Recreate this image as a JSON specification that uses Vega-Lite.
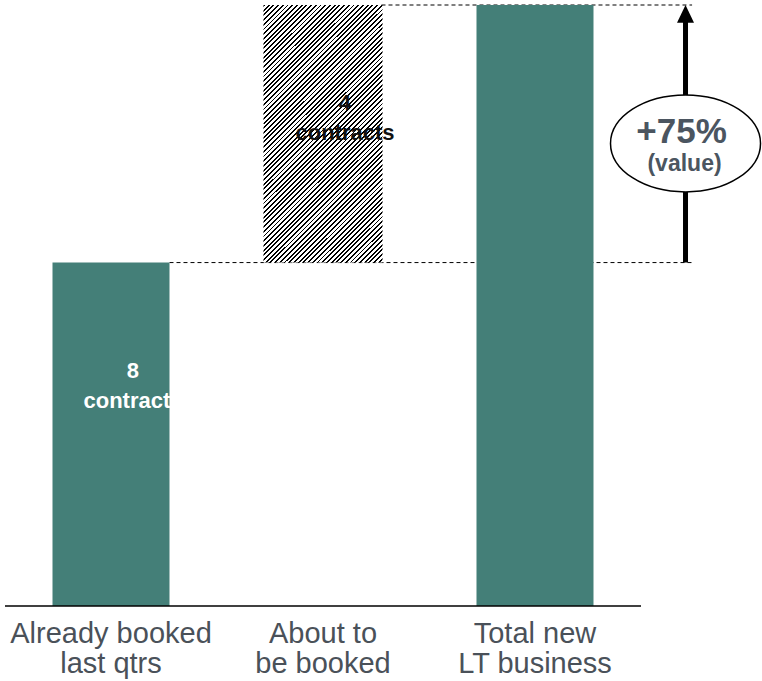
{
  "$schema": "https://vega.github.io/schema/vega-lite/v6.json",
  "width": 752,
  "height": 601,
  "autosize": {"type": "none"},
  "padding": {"left": 5, "top": 5, "right": 5, "bottom": 75},
  "background": "white",
  "config": {"view": {"stroke": null}, "font": "Liberation Sans"},
  "datasets": {
    "bars": [
      {"stage": "Already booked\nlast qtrs", "pos": 0.5, "start": 0, "end": 100, "note": "8\ncontracts", "kind": "booked"},
      {"stage": "About to\nbe booked", "pos": 1.5, "start": 100, "end": 175, "note": "4\ncontracts", "kind": "pipeline"},
      {"stage": "Total new\nLT business", "pos": 2.5, "start": 0, "end": 175, "note": "", "kind": "total"}
    ],
    "growth": [{"from": 100, "to": 175, "label": "+75%", "sub": "(value)"}]
  },
  "data": {"name": "bars"},
  "layer": [
    {
      "transform": [{"filter": "datum.kind != 'total'"}],
      "mark": {"type": "rule", "strokeDash": [4, 3], "strokeWidth": 1, "color": "#000000", "xOffset": 58.5, "x2Offset": 0},
      "encoding": {
        "x": {"field": "pos", "type": "quantitative", "scale": {"domain": [0, 3.5472], "nice": false, "zero": false, "padding": 0}, "axis": null},
        "x2": {"datum": 3.241},
        "y": {"field": "end", "type": "quantitative", "scale": {"domain": [0, 175], "nice": false, "padding": 0}, "axis": null}
      }
    },
    {
      "transform": [{"filter": "datum.kind != 'pipeline'"}],
      "mark": {"type": "bar", "width": 117, "color": "#447F78"},
      "encoding": {
        "x": {"field": "pos", "type": "quantitative"},
        "y": {"field": "end", "type": "quantitative"},
        "y2": {"field": "start"}
      }
    },
    {
      "transform": [{"filter": "datum.kind == 'pipeline'"}],
      "mark": {
        "type": "bar",
        "width": 119,
        "fill": {
          "gradient": "linear", "x1": 0, "y1": 0, "x2": 0.5558, "y2": 1.2049,
          "stops": [
            {"offset":0,"color":"#000"},{"offset":0.005,"color":"#000"},{"offset":0.005,"color":"#fff"},{"offset":0.0125,"color":"#fff"},
            {"offset":0.0125,"color":"#000"},{"offset":0.0175,"color":"#000"},{"offset":0.0175,"color":"#fff"},{"offset":0.025,"color":"#fff"},
            {"offset":0.025,"color":"#000"},{"offset":0.03,"color":"#000"},{"offset":0.03,"color":"#fff"},{"offset":0.0375,"color":"#fff"},
            {"offset":0.0375,"color":"#000"},{"offset":0.0425,"color":"#000"},{"offset":0.0425,"color":"#fff"},{"offset":0.05,"color":"#fff"},
            {"offset":0.05,"color":"#000"},{"offset":0.055,"color":"#000"},{"offset":0.055,"color":"#fff"},{"offset":0.0625,"color":"#fff"},
            {"offset":0.0625,"color":"#000"},{"offset":0.0675,"color":"#000"},{"offset":0.0675,"color":"#fff"},{"offset":0.075,"color":"#fff"},
            {"offset":0.075,"color":"#000"},{"offset":0.08,"color":"#000"},{"offset":0.08,"color":"#fff"},{"offset":0.0875,"color":"#fff"},
            {"offset":0.0875,"color":"#000"},{"offset":0.0925,"color":"#000"},{"offset":0.0925,"color":"#fff"},{"offset":0.1,"color":"#fff"},
            {"offset":0.1,"color":"#000"},{"offset":0.105,"color":"#000"},{"offset":0.105,"color":"#fff"},{"offset":0.1125,"color":"#fff"},
            {"offset":0.1125,"color":"#000"},{"offset":0.1175,"color":"#000"},{"offset":0.1175,"color":"#fff"},{"offset":0.125,"color":"#fff"},
            {"offset":0.125,"color":"#000"},{"offset":0.13,"color":"#000"},{"offset":0.13,"color":"#fff"},{"offset":0.1375,"color":"#fff"},
            {"offset":0.1375,"color":"#000"},{"offset":0.1425,"color":"#000"},{"offset":0.1425,"color":"#fff"},{"offset":0.15,"color":"#fff"},
            {"offset":0.15,"color":"#000"},{"offset":0.155,"color":"#000"},{"offset":0.155,"color":"#fff"},{"offset":0.1625,"color":"#fff"},
            {"offset":0.1625,"color":"#000"},{"offset":0.1675,"color":"#000"},{"offset":0.1675,"color":"#fff"},{"offset":0.175,"color":"#fff"},
            {"offset":0.175,"color":"#000"},{"offset":0.18,"color":"#000"},{"offset":0.18,"color":"#fff"},{"offset":0.1875,"color":"#fff"},
            {"offset":0.1875,"color":"#000"},{"offset":0.1925,"color":"#000"},{"offset":0.1925,"color":"#fff"},{"offset":0.2,"color":"#fff"},
            {"offset":0.2,"color":"#000"},{"offset":0.205,"color":"#000"},{"offset":0.205,"color":"#fff"},{"offset":0.2125,"color":"#fff"},
            {"offset":0.2125,"color":"#000"},{"offset":0.2175,"color":"#000"},{"offset":0.2175,"color":"#fff"},{"offset":0.225,"color":"#fff"},
            {"offset":0.225,"color":"#000"},{"offset":0.23,"color":"#000"},{"offset":0.23,"color":"#fff"},{"offset":0.2375,"color":"#fff"},
            {"offset":0.2375,"color":"#000"},{"offset":0.2425,"color":"#000"},{"offset":0.2425,"color":"#fff"},{"offset":0.25,"color":"#fff"},
            {"offset":0.25,"color":"#000"},{"offset":0.255,"color":"#000"},{"offset":0.255,"color":"#fff"},{"offset":0.2625,"color":"#fff"},
            {"offset":0.2625,"color":"#000"},{"offset":0.2675,"color":"#000"},{"offset":0.2675,"color":"#fff"},{"offset":0.275,"color":"#fff"},
            {"offset":0.275,"color":"#000"},{"offset":0.28,"color":"#000"},{"offset":0.28,"color":"#fff"},{"offset":0.2875,"color":"#fff"},
            {"offset":0.2875,"color":"#000"},{"offset":0.2925,"color":"#000"},{"offset":0.2925,"color":"#fff"},{"offset":0.3,"color":"#fff"},
            {"offset":0.3,"color":"#000"},{"offset":0.305,"color":"#000"},{"offset":0.305,"color":"#fff"},{"offset":0.3125,"color":"#fff"},
            {"offset":0.3125,"color":"#000"},{"offset":0.3175,"color":"#000"},{"offset":0.3175,"color":"#fff"},{"offset":0.325,"color":"#fff"},
            {"offset":0.325,"color":"#000"},{"offset":0.33,"color":"#000"},{"offset":0.33,"color":"#fff"},{"offset":0.3375,"color":"#fff"},
            {"offset":0.3375,"color":"#000"},{"offset":0.3425,"color":"#000"},{"offset":0.3425,"color":"#fff"},{"offset":0.35,"color":"#fff"},
            {"offset":0.35,"color":"#000"},{"offset":0.355,"color":"#000"},{"offset":0.355,"color":"#fff"},{"offset":0.3625,"color":"#fff"},
            {"offset":0.3625,"color":"#000"},{"offset":0.3675,"color":"#000"},{"offset":0.3675,"color":"#fff"},{"offset":0.375,"color":"#fff"},
            {"offset":0.375,"color":"#000"},{"offset":0.38,"color":"#000"},{"offset":0.38,"color":"#fff"},{"offset":0.3875,"color":"#fff"},
            {"offset":0.3875,"color":"#000"},{"offset":0.3925,"color":"#000"},{"offset":0.3925,"color":"#fff"},{"offset":0.4,"color":"#fff"},
            {"offset":0.4,"color":"#000"},{"offset":0.405,"color":"#000"},{"offset":0.405,"color":"#fff"},{"offset":0.4125,"color":"#fff"},
            {"offset":0.4125,"color":"#000"},{"offset":0.4175,"color":"#000"},{"offset":0.4175,"color":"#fff"},{"offset":0.425,"color":"#fff"},
            {"offset":0.425,"color":"#000"},{"offset":0.43,"color":"#000"},{"offset":0.43,"color":"#fff"},{"offset":0.4375,"color":"#fff"},
            {"offset":0.4375,"color":"#000"},{"offset":0.4425,"color":"#000"},{"offset":0.4425,"color":"#fff"},{"offset":0.45,"color":"#fff"},
            {"offset":0.45,"color":"#000"},{"offset":0.455,"color":"#000"},{"offset":0.455,"color":"#fff"},{"offset":0.4625,"color":"#fff"},
            {"offset":0.4625,"color":"#000"},{"offset":0.4675,"color":"#000"},{"offset":0.4675,"color":"#fff"},{"offset":0.475,"color":"#fff"},
            {"offset":0.475,"color":"#000"},{"offset":0.48,"color":"#000"},{"offset":0.48,"color":"#fff"},{"offset":0.4875,"color":"#fff"},
            {"offset":0.4875,"color":"#000"},{"offset":0.4925,"color":"#000"},{"offset":0.4925,"color":"#fff"},{"offset":0.5,"color":"#fff"},
            {"offset":0.5,"color":"#000"},{"offset":0.505,"color":"#000"},{"offset":0.505,"color":"#fff"},{"offset":0.5125,"color":"#fff"},
            {"offset":0.5125,"color":"#000"},{"offset":0.5175,"color":"#000"},{"offset":0.5175,"color":"#fff"},{"offset":0.525,"color":"#fff"},
            {"offset":0.525,"color":"#000"},{"offset":0.53,"color":"#000"},{"offset":0.53,"color":"#fff"},{"offset":0.5375,"color":"#fff"},
            {"offset":0.5375,"color":"#000"},{"offset":0.5425,"color":"#000"},{"offset":0.5425,"color":"#fff"},{"offset":0.55,"color":"#fff"},
            {"offset":0.55,"color":"#000"},{"offset":0.555,"color":"#000"},{"offset":0.555,"color":"#fff"},{"offset":0.5625,"color":"#fff"},
            {"offset":0.5625,"color":"#000"},{"offset":0.5675,"color":"#000"},{"offset":0.5675,"color":"#fff"},{"offset":0.575,"color":"#fff"},
            {"offset":0.575,"color":"#000"},{"offset":0.58,"color":"#000"},{"offset":0.58,"color":"#fff"},{"offset":0.5875,"color":"#fff"},
            {"offset":0.5875,"color":"#000"},{"offset":0.5925,"color":"#000"},{"offset":0.5925,"color":"#fff"},{"offset":0.6,"color":"#fff"},
            {"offset":0.6,"color":"#000"},{"offset":0.605,"color":"#000"},{"offset":0.605,"color":"#fff"},{"offset":0.6125,"color":"#fff"},
            {"offset":0.6125,"color":"#000"},{"offset":0.6175,"color":"#000"},{"offset":0.6175,"color":"#fff"},{"offset":0.625,"color":"#fff"},
            {"offset":0.625,"color":"#000"},{"offset":0.63,"color":"#000"},{"offset":0.63,"color":"#fff"},{"offset":0.6375,"color":"#fff"},
            {"offset":0.6375,"color":"#000"},{"offset":0.6425,"color":"#000"},{"offset":0.6425,"color":"#fff"},{"offset":0.65,"color":"#fff"},
            {"offset":0.65,"color":"#000"},{"offset":0.655,"color":"#000"},{"offset":0.655,"color":"#fff"},{"offset":0.6625,"color":"#fff"},
            {"offset":0.6625,"color":"#000"},{"offset":0.6675,"color":"#000"},{"offset":0.6675,"color":"#fff"},{"offset":0.675,"color":"#fff"},
            {"offset":0.675,"color":"#000"},{"offset":0.68,"color":"#000"},{"offset":0.68,"color":"#fff"},{"offset":0.6875,"color":"#fff"},
            {"offset":0.6875,"color":"#000"},{"offset":0.6925,"color":"#000"},{"offset":0.6925,"color":"#fff"},{"offset":0.7,"color":"#fff"},
            {"offset":0.7,"color":"#000"},{"offset":0.705,"color":"#000"},{"offset":0.705,"color":"#fff"},{"offset":0.7125,"color":"#fff"},
            {"offset":0.7125,"color":"#000"},{"offset":0.7175,"color":"#000"},{"offset":0.7175,"color":"#fff"},{"offset":0.725,"color":"#fff"},
            {"offset":0.725,"color":"#000"},{"offset":0.73,"color":"#000"},{"offset":0.73,"color":"#fff"},{"offset":0.7375,"color":"#fff"},
            {"offset":0.7375,"color":"#000"},{"offset":0.7425,"color":"#000"},{"offset":0.7425,"color":"#fff"},{"offset":0.75,"color":"#fff"},
            {"offset":0.75,"color":"#000"},{"offset":0.755,"color":"#000"},{"offset":0.755,"color":"#fff"},{"offset":0.7625,"color":"#fff"},
            {"offset":0.7625,"color":"#000"},{"offset":0.7675,"color":"#000"},{"offset":0.7675,"color":"#fff"},{"offset":0.775,"color":"#fff"},
            {"offset":0.775,"color":"#000"},{"offset":0.78,"color":"#000"},{"offset":0.78,"color":"#fff"},{"offset":0.7875,"color":"#fff"},
            {"offset":0.7875,"color":"#000"},{"offset":0.7925,"color":"#000"},{"offset":0.7925,"color":"#fff"},{"offset":0.8,"color":"#fff"},
            {"offset":0.8,"color":"#000"},{"offset":0.805,"color":"#000"},{"offset":0.805,"color":"#fff"},{"offset":0.8125,"color":"#fff"},
            {"offset":0.8125,"color":"#000"},{"offset":0.8175,"color":"#000"},{"offset":0.8175,"color":"#fff"},{"offset":0.825,"color":"#fff"},
            {"offset":0.825,"color":"#000"},{"offset":0.83,"color":"#000"},{"offset":0.83,"color":"#fff"},{"offset":0.8375,"color":"#fff"},
            {"offset":0.8375,"color":"#000"},{"offset":0.8425,"color":"#000"},{"offset":0.8425,"color":"#fff"},{"offset":0.85,"color":"#fff"},
            {"offset":0.85,"color":"#000"},{"offset":0.855,"color":"#000"},{"offset":0.855,"color":"#fff"},{"offset":0.8625,"color":"#fff"},
            {"offset":0.8625,"color":"#000"},{"offset":0.8675,"color":"#000"},{"offset":0.8675,"color":"#fff"},{"offset":0.875,"color":"#fff"},
            {"offset":0.875,"color":"#000"},{"offset":0.88,"color":"#000"},{"offset":0.88,"color":"#fff"},{"offset":0.8875,"color":"#fff"},
            {"offset":0.8875,"color":"#000"},{"offset":0.8925,"color":"#000"},{"offset":0.8925,"color":"#fff"},{"offset":0.9,"color":"#fff"},
            {"offset":0.9,"color":"#000"},{"offset":0.905,"color":"#000"},{"offset":0.905,"color":"#fff"},{"offset":0.9125,"color":"#fff"},
            {"offset":0.9125,"color":"#000"},{"offset":0.9175,"color":"#000"},{"offset":0.9175,"color":"#fff"},{"offset":0.925,"color":"#fff"},
            {"offset":0.925,"color":"#000"},{"offset":0.93,"color":"#000"},{"offset":0.93,"color":"#fff"},{"offset":0.9375,"color":"#fff"},
            {"offset":0.9375,"color":"#000"},{"offset":0.9425,"color":"#000"},{"offset":0.9425,"color":"#fff"},{"offset":0.95,"color":"#fff"},
            {"offset":0.95,"color":"#000"},{"offset":0.955,"color":"#000"},{"offset":0.955,"color":"#fff"},{"offset":0.9625,"color":"#fff"},
            {"offset":0.9625,"color":"#000"},{"offset":0.9675,"color":"#000"},{"offset":0.9675,"color":"#fff"},{"offset":0.975,"color":"#fff"},
            {"offset":0.975,"color":"#000"},{"offset":0.98,"color":"#000"},{"offset":0.98,"color":"#fff"},{"offset":0.9875,"color":"#fff"},
            {"offset":0.9875,"color":"#000"},{"offset":0.9925,"color":"#000"},{"offset":0.9925,"color":"#fff"},{"offset":1,"color":"#fff"}
          ]
        }
      },
      "encoding": {
        "x": {"field": "pos", "type": "quantitative"},
        "y": {"field": "end", "type": "quantitative"},
        "y2": {"field": "start"}
      }
    },
    {
      "data": {"values": [{}]},
      "mark": {"type": "rule", "color": "#000000", "strokeWidth": 1.5},
      "encoding": {
        "x": {"datum": 0},
        "x2": {"datum": 3.0},
        "y": {"datum": 0}
      }
    },
    {
      "mark": {"type": "text", "lineBreak": "\n", "fontSize": 29, "lineHeight": 30, "baseline": "alphabetic", "align": "center", "dy": 37, "color": "#4A5159"},
      "encoding": {
        "x": {"field": "pos", "type": "quantitative"},
        "y": {"datum": 0},
        "text": {"field": "stage"}
      }
    },
    {
      "transform": [{"filter": "datum.kind == 'booked'"}],
      "mark": {"type": "text", "lineBreak": "\n", "fontSize": 22, "fontWeight": "bold", "lineHeight": 30, "baseline": "middle", "align": "center", "dx": 22, "color": "#ffffff"},
      "encoding": {
        "x": {"field": "pos", "type": "quantitative"},
        "y": {"datum": 68.4},
        "text": {"field": "note"}
      }
    },
    {
      "transform": [{"filter": "datum.kind == 'pipeline'"}],
      "mark": {"type": "text", "lineBreak": "\n", "fontSize": 22, "fontWeight": "bold", "lineHeight": 30, "baseline": "middle", "align": "center", "dx": 22, "color": "#111111"},
      "encoding": {
        "x": {"field": "pos", "type": "quantitative"},
        "y": {"datum": 146.5},
        "text": {"field": "note"}
      }
    },
    {
      "data": {"name": "growth"},
      "mark": {"type": "rule", "color": "#000000", "strokeWidth": 5},
      "encoding": {
        "x": {"datum": 3.21},
        "y": {"field": "from", "type": "quantitative"},
        "y2": {"datum": 170.5}
      }
    },
    {
      "data": {"name": "growth"},
      "mark": {"type": "point", "filled": true, "fill": "#ffffff", "stroke": "#000000", "strokeWidth": 1.5, "opacity": 1, "size": 22500, "shape": "M-1,0A1,0.647,0,1,0,1,0A1,0.647,0,1,0,-1,0Z"},
      "encoding": {
        "x": {"datum": 3.21},
        "y": {"datum": 134.7}
      }
    },
    {
      "data": {"name": "growth"},
      "mark": {"type": "text", "fontSize": 35, "fontWeight": "bold", "baseline": "alphabetic", "align": "center", "dx": -4, "dy": 0, "color": "#4B5560"},
      "encoding": {
        "x": {"datum": 3.21},
        "y": {"datum": 134.7},
        "text": {"field": "label"}
      }
    },
    {
      "data": {"name": "growth"},
      "mark": {"type": "text", "fontSize": 23, "fontWeight": "bold", "baseline": "alphabetic", "align": "center", "dx": -1, "dy": 28, "color": "#4B5560"},
      "encoding": {
        "x": {"datum": 3.21},
        "y": {"datum": 134.7},
        "text": {"field": "sub"}
      }
    },
    {
      "data": {"name": "growth"},
      "mark": {"type": "point", "filled": true, "color": "#000000", "opacity": 1, "size": 289, "shape": "M0,0L1,2.1L-1,2.1Z"},
      "encoding": {
        "x": {"datum": 3.21},
        "y": {"field": "to", "type": "quantitative"}
      }
    }
  ]
}
